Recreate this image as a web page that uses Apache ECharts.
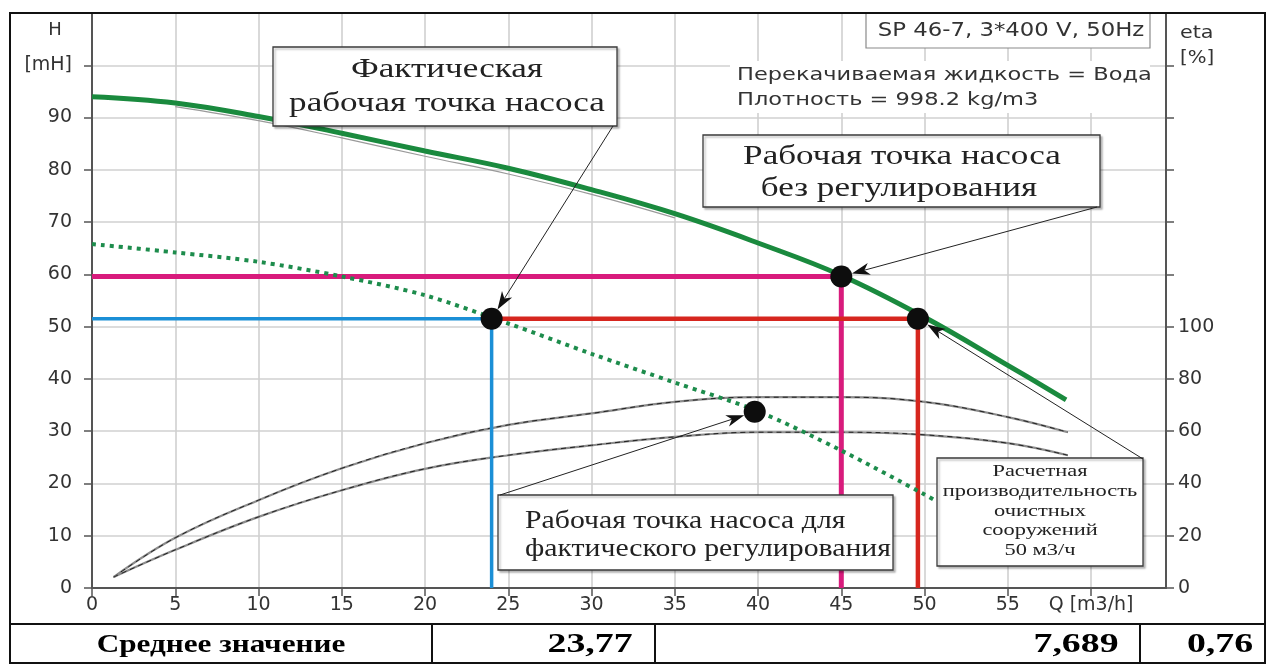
<!DOCTYPE html>
<html>
<head>
<meta charset="utf-8">
<script src="https://cdn.jsdelivr.net/npm/echarts@6/dist/echarts.min.js"></script>
<style>
  html, body { margin: 0; padding: 0; background: #fff; }
  #chart { width: 1276px; height: 664px; }
</style>
</head>
<body>
<div id="chart"></div>
<script>
// Pump head curve H(Q), SP 46-7
const headQ = [0, 5, 10, 15, 20, 25, 30, 35, 40, 45, 50, 55, 58.5];
const headH = [94, 92.8, 90.2, 87, 83.6, 80.3, 76.2, 71.6, 66, 59.8, 51.8, 42.6, 36];

// Faint catalogue head curve just under the main one
const refHeadQ = [5, 10, 15, 20, 25, 30, 35];
const refHeadH = [92.1, 89.4, 86.1, 82.6, 79.2, 75.3, 70.8];

// Regulated (throttled) curve
const sysQ = [0, 5, 10, 15, 20, 25, 30, 35, 40, 45, 50, 50.6];
const sysH = [65.8, 64.2, 62.4, 59.6, 56, 50.6, 44.8, 39.3, 33.8, 26.3, 17.9, 16.8];

// Efficiency curves, %
const effQ = [1.3, 5, 10, 15, 20, 25, 30, 35, 40, 45, 50, 55, 58.6];
const effUpper = [4.2, 19.2, 33.6, 45.8, 55.4, 62.4, 66.8, 71.2, 73, 73, 71.2, 65.4, 59.6];
const effLower = [4.2, 14.6, 27.2, 37.4, 45.6, 50.8, 54.6, 57.8, 59.6, 59.6, 58.6, 55.4, 50.8];

// Operating points [Q m3/h, H m]
const pointActual = [24.0, 51.5];
const pointNoControl = [45.0, 59.6];
const pointDesign = [49.6, 51.5];
const pointControlled = [39.8, 33.7];

// Tick labels
const qTickLabels = ['0', '5', '10', '15', '20', '25', '30', '35', '40', '45', '50', '55', 'Q [m3/h]'];
const hTickLabels = ['0', '10', '20', '30', '40', '50', '60', '70', '80', '90', '[mH]', ''];
const etaTickLabels = ['0', '20', '40', '60', '80', '100'];

// Summary row under the chart
const tableCells = ['Среднее значение', '23,77', '7,689', '0,76'];

const SERIF = '"Liberation Serif", "Times New Roman", serif';
const SANS = '"DejaVu Sans", "Liberation Sans", sans-serif';
const AXIS = '#555';
const LABEL = '#333';

const pairs = (xs, ys) => xs.map((x, i) => [x, ys[i]]);

const chart = echarts.init(document.getElementById('chart'));

const option = {
  animation: false,
  backgroundColor: '#fff',
  grid: { left: 92, right: 110, top: 13, bottom: 76 },
  xAxis: {
    type: 'value', min: 0, max: 64.5, interval: 5,
    axisLine: { lineStyle: { color: AXIS, width: 2 } },
    axisTick: { length: 8, lineStyle: { color: AXIS, width: 1.5 } },
    axisLabel: {
      margin: 8, color: LABEL, fontFamily: SANS, fontSize: 19,
      showMaxLabel: false,
      formatter: v => qTickLabels[Math.round(v / 5)] ?? ''
    },
    splitLine: { lineStyle: { color: '#d0d0d0', width: 1.6 } }
  },
  yAxis: [
    {
      type: 'value', min: 0, max: 110, interval: 10, position: 'left',
      axisLine: { show: true, lineStyle: { color: AXIS, width: 2 } },
      axisTick: { show: true, length: 8, lineStyle: { color: AXIS, width: 1.5 } },
      axisLabel: {
        margin: 20, color: LABEL, fontFamily: SANS, fontSize: 19,
        showMaxLabel: false,
        formatter: v => hTickLabels[Math.round(v / 10)] ?? ''
      },
      splitLine: { lineStyle: { color: '#d0d0d0', width: 1.6 } }
    },
    {
      type: 'value', min: 0, max: 220, interval: 20, position: 'right',
      axisLine: { show: true, lineStyle: { color: AXIS, width: 2 } },
      axisTick: { show: true, length: 8, lineStyle: { color: AXIS, width: 1.5 } },
      axisLabel: {
        margin: 12, color: LABEL, fontFamily: SANS, fontSize: 19,
        showMaxLabel: false,
        formatter: v => etaTickLabels[Math.round(v / 20)] ?? ''
      },
      splitLine: { show: false }
    }
  ],
  series: [
    // efficiency curves: grey body with a darker dashed core
    { type: 'line', yAxisIndex: 1, data: pairs(effQ, effUpper), smooth: 0.4, symbol: 'none',
      lineStyle: { color: '#8c8c8c', width: 2.2 }, z: 2 },
    { type: 'line', yAxisIndex: 1, data: pairs(effQ, effUpper), smooth: 0.4, symbol: 'none',
      lineStyle: { color: '#222', width: 1, type: [5, 4] }, z: 2 },
    { type: 'line', yAxisIndex: 1, data: pairs(effQ, effLower), smooth: 0.4, symbol: 'none',
      lineStyle: { color: '#8c8c8c', width: 2.2 }, z: 2 },
    { type: 'line', yAxisIndex: 1, data: pairs(effQ, effLower), smooth: 0.4, symbol: 'none',
      lineStyle: { color: '#222', width: 1, type: [5, 4] }, z: 2 },
    // catalogue head curve
    { type: 'line', data: pairs(refHeadQ, refHeadH), smooth: 0.4, symbol: 'none',
      lineStyle: { color: '#9a9a9a', width: 1.2 }, z: 2 },
    // unregulated operating point guide lines
    { type: 'line', data: [[0, pointNoControl[1]], pointNoControl, [pointNoControl[0], 0]],
      symbol: 'none', lineStyle: { color: '#d81b7c', width: 5, cap: 'butt' }, z: 3 },
    // actual operating point guide lines
    { type: 'line', data: [[0, pointActual[1]], pointActual, [pointActual[0], 0]],
      symbol: 'none', lineStyle: { color: '#1b8fd6', width: 3.5, cap: 'butt' }, z: 3 },
    // design capacity guide lines
    { type: 'line', data: [pointActual, [pointDesign[0], pointActual[1]], [pointDesign[0], 0]],
      symbol: 'none', lineStyle: { color: '#d6261e', width: 4.5, cap: 'butt' }, z: 3 },
    // regulated curve
    { type: 'line', data: pairs(sysQ, sysH), smooth: 0.3, symbol: 'none',
      lineStyle: { color: '#1d8c4c', width: 4, type: [4, 5] }, z: 4 },
    // pump head curve
    { type: 'line', data: pairs(headQ, headH), smooth: 0.4, symbol: 'none',
      lineStyle: { color: '#1a8a3e', width: 5 }, z: 5 },
    // operating points
    { type: 'scatter', data: [pointActual, pointNoControl, pointDesign, pointControlled],
      symbol: 'circle', symbolSize: 22, itemStyle: { color: '#0d0d0d', opacity: 1 }, z: 8 }
  ]
};

chart.setOption(option);

// ---- annotations, frame and summary row ----
const toPx = p => chart.convertToPixel({ xAxisIndex: 0, yAxisIndex: 0 }, p);

function label(text, x, y, opts) {
  const o = opts || {};
  return {
    type: 'text', x: x, y: y, scaleX: o.sx || 1, z: 120,
    style: {
      text: text, fill: o.color || '#222',
      fontFamily: o.family || SERIF, fontSize: o.size || 26, fontWeight: o.weight || 'normal',
      align: o.align || 'center', verticalAlign: 'middle',
      textAlign: o.align || 'center', textVerticalAlign: 'middle'
    }
  };
}

function box(x, y, w, h) {
  return {
    type: 'rect', z: 110,
    shape: { x: x, y: y, width: w, height: h },
    style: { fill: '#fff', stroke: '#3a3a3a', lineWidth: 1.3,
             shadowColor: 'rgba(0,0,0,0.25)', shadowOffsetX: 2, shadowOffsetY: 2, shadowBlur: 2 }
  };
}

function arrow(tail, point) {
  const p = toPx(point);
  const dx = p[0] - tail[0], dy = p[1] - tail[1];
  const len = Math.hypot(dx, dy);
  const ux = dx / len, uy = dy / len;
  const r = 11, L = 18, w = 6;
  const tip = [p[0] - ux * r, p[1] - uy * r];
  const base = [tip[0] - ux * L, tip[1] - uy * L];
  const notch = [tip[0] - ux * L * 0.72, tip[1] - uy * L * 0.72];
  return [
    { type: 'line', z: 115, shape: { x1: tail[0], y1: tail[1], x2: notch[0], y2: notch[1] },
      style: { stroke: '#222', lineWidth: 1 } },
    { type: 'polygon', z: 115,
      shape: { points: [tip, [base[0] - uy * w, base[1] + ux * w], notch, [base[0] + uy * w, base[1] - ux * w]] },
      style: { fill: '#111' } }
  ];
}

const g = [];

// outer frame and summary row
g.push({ type: 'rect', z: 130, shape: { x: 10, y: 13, width: 1255, height: 611 },
         style: { fill: 'none', stroke: '#111', lineWidth: 2 } });
g.push({ type: 'rect', z: 130, shape: { x: 10, y: 624, width: 1255, height: 39 },
         style: { fill: 'none', stroke: '#111', lineWidth: 2 } });
[432, 655, 1140].forEach(x => g.push({ type: 'line', z: 130,
  shape: { x1: x, y1: 624, x2: x, y2: 663 }, style: { stroke: '#111', lineWidth: 2 } }));
const cellCenters = [221, 590, 1076, 1220];
tableCells.forEach((t, i) => g.push(label(t, cellCenters[i], 645, i === 0
  ? { size: 26, weight: 'bold', sx: 1.2, color: '#000' }
  : { size: 28, weight: 'bold', sx: 1.35, color: '#000' })));

// axis titles
g.push(label('H', 55, 30, { family: SANS, size: 18, color: LABEL }));
g.push(label('eta', 1180, 33, { family: SANS, size: 18, sx: 1.15, color: LABEL, align: 'left' }));
g.push(label('[%]', 1180, 58, { family: SANS, size: 18, sx: 1.1, color: LABEL, align: 'left' }));

// pump info
g.push({ type: 'rect', z: 105, shape: { x: 866, y: 13, width: 284, height: 35 },
         style: { fill: '#fff', stroke: '#8a8a8a', lineWidth: 1.2 } });
g.push(label('SP 46-7, 3*400 V, 50Hz', 1011, 31, { family: SANS, size: 19, sx: 1.2, color: LABEL }));
g.push({ type: 'rect', z: 105, shape: { x: 730, y: 61, width: 420, height: 52 },
         style: { fill: '#fff' } });
g.push(label('Перекачиваемая жидкость = Вода', 737, 75, { family: SANS, size: 18, sx: 1.25, color: LABEL, align: 'left' }));
g.push(label('Плотность = 998.2 kg/m3', 737, 100, { family: SANS, size: 18, sx: 1.25, color: LABEL, align: 'left' }));

// callouts
g.push(box(273, 47, 344, 79));
g.push(label('Фактическая', 447, 70, { size: 27, sx: 1.3 }));
g.push(label('рабочая точка насоса', 447, 104, { size: 27, sx: 1.3 }));
g.push(...arrow([613, 126], pointActual));

g.push(box(703, 135, 397, 72));
g.push(label('Рабочая точка насоса', 902, 157, { size: 27, sx: 1.3 }));
g.push(label('без регулирования', 899, 189, { size: 27, sx: 1.3 }));
g.push(...arrow([1097, 207], pointNoControl));

g.push(box(498, 495, 395, 75));
g.push(label('Рабочая точка насоса для', 525, 521, { size: 25, sx: 1.19, align: 'left' }));
g.push(label('фактического регулирования', 525, 549, { size: 25, sx: 1.19, align: 'left' }));
g.push(...arrow([500, 495], pointControlled));

g.push(box(937, 458, 206, 108));
['Расчетная', 'производительность', 'очистных', 'сооружений', '50 м3/ч'].forEach((t, i) =>
  g.push(label(t, 1040, 472 + i * 19.7, { size: 16, sx: 1.4 })));
g.push(...arrow([1143, 459], pointDesign));

chart.setOption({ graphic: { elements: g } });
</script>
</body>
</html>
